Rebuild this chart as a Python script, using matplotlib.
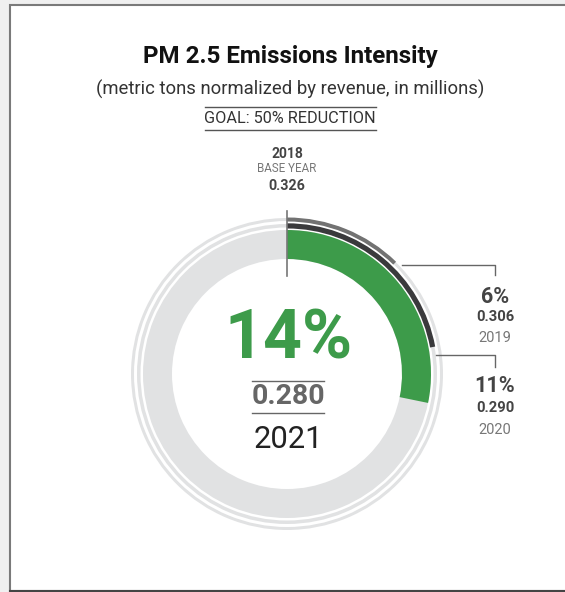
import matplotlib
matplotlib.use("Agg")
import matplotlib.pyplot as plt
from matplotlib.patches import Wedge, Rectangle

# ---- data ----
years = ["2018", "2019", "2020", "2021"]
values = [0.326, 0.306, 0.290, 0.280]
goal_pct = 50  # full circle = 50% reduction goal
title = "PM 2.5 Emissions Intensity"
subtitle = "(metric tons normalized by revenue, in millions)"
goal_label = "GOAL: 50% REDUCTION"
base_label = "BASE YEAR"

base = values[0]
pcts = [(base - v) / base * 100 for v in values]

W, H = 565, 592
fig = plt.figure(figsize=(W / 100, H / 100), dpi=100, facecolor="#f0f0f0")
ax = fig.add_axes([0, 0, 1, 1])
ax.set_xlim(0, W)
ax.set_ylim(H, 0)
ax.axis("off")

# panel
ax.add_patch(Rectangle((9.5, 4.5), 600, 586, facecolor="white", edgecolor="#7a7a7a", lw=1.5, zorder=0))
ax.plot([9.5, 600], [590.5, 590.5], color="#444444", lw=1.5, zorder=1)

FONT = "Roboto"
GREEN = "#3d9b4a"
LIGHT = "#e1e2e3"
GRAY_ARC = "#727272"
DARK_ARC = "#3a3a3c"
TXT = "#444444"

cx, cy = 287, 374

def ang(p):
    return p / goal_pct * 360.0

def wedge(r, width, p, color, z):
    a = ang(p)
    w = Wedge((cx, cy), r, -90, -90 + a, width=width, facecolor=color, edgecolor="none", zorder=z)
    ax.add_patch(w)

# background rings
wedge(156, 3, goal_pct, LIGHT, 2)
wedge(150, 3.5, goal_pct, LIGHT, 2)
wedge(144, 29, goal_pct, LIGHT, 2)

# series arcs
wedge(156.5, 4, pcts[1], GRAY_ARC, 3)
wedge(150.7, 5.2, pcts[2], DARK_ARC, 3)
wedge(144, 29, pcts[3], GREEN, 3)

# base year tick
ax.plot([cx, cx], [211, 276], color="#777777", lw=1.2, zorder=4)

# connectors
ax.plot([402, 495, 495], [264.5, 264.5, 275], color="#666666", lw=1, zorder=4)
ax.plot([436, 495, 495], [354.5, 354.5, 367], color="#666666", lw=1, zorder=4)

# titles
ax.text(290, 57, title, ha="center", va="center", fontsize=17.4, fontweight="bold", family=FONT, color="#111111")
ax.text(290, 89, subtitle, ha="center", va="center", fontsize=13.3, family=FONT, color="#333333")
ax.text(290, 118.5, goal_label, ha="center", va="center", fontsize=11.7, family=FONT, color="#333333")
ax.plot([205, 376], [107, 107], color="#555555", lw=1)
ax.plot([205, 376], [129.5, 129.5], color="#555555", lw=1)

# base year labels
ax.text(cx, 154, years[0], ha="center", va="center", fontsize=10, fontweight="bold", family=FONT, color=TXT)
ax.text(cx, 169, base_label, ha="center", va="center", fontsize=8.4, family=FONT, color="#777777")
ax.text(cx, 186.5, f"{values[0]:.3f}", ha="center", va="center", fontsize=10.3, fontweight="bold", family=FONT, color=TXT)

# 2019 labels
ax.text(495, 297, f"{pcts[1]:.0f}%", ha="center", va="center", fontsize=15.5, fontweight="bold", family=FONT, color=TXT)
ax.text(495, 317, f"{values[1]:.3f}", ha="center", va="center", fontsize=10.6, fontweight="bold", family=FONT, color=TXT)
ax.text(495, 338.5, years[1], ha="center", va="center", fontsize=10.5, family=FONT, color="#777777")

# 2020 labels
ax.text(495, 386.5, f"{pcts[2]:.0f}%", ha="center", va="center", fontsize=15.5, fontweight="bold", family=FONT, color=TXT)
ax.text(495, 408, f"{values[2]:.3f}", ha="center", va="center", fontsize=10.6, fontweight="bold", family=FONT, color=TXT)
ax.text(495, 429.5, years[2], ha="center", va="center", fontsize=10.5, family=FONT, color="#777777")

# center labels
ax.text(289, 340, f"{pcts[3]:.0f}%", ha="center", va="center", fontsize=49, fontweight="bold", family=FONT, color=GREEN)
ax.plot([252, 324], [381, 381], color="#666666", lw=1)
ax.text(288, 396.5, f"{values[3]:.3f}", ha="center", va="center", fontsize=20.5, fontweight="bold", family=FONT, color="#666666")
ax.plot([252, 324], [413, 413], color="#666666", lw=1)
ax.text(288, 439.5, years[3], ha="center", va="center", fontsize=22.3, family=FONT, color="#222222")

fig.savefig("out.png", dpi=100, facecolor=fig.get_facecolor())
